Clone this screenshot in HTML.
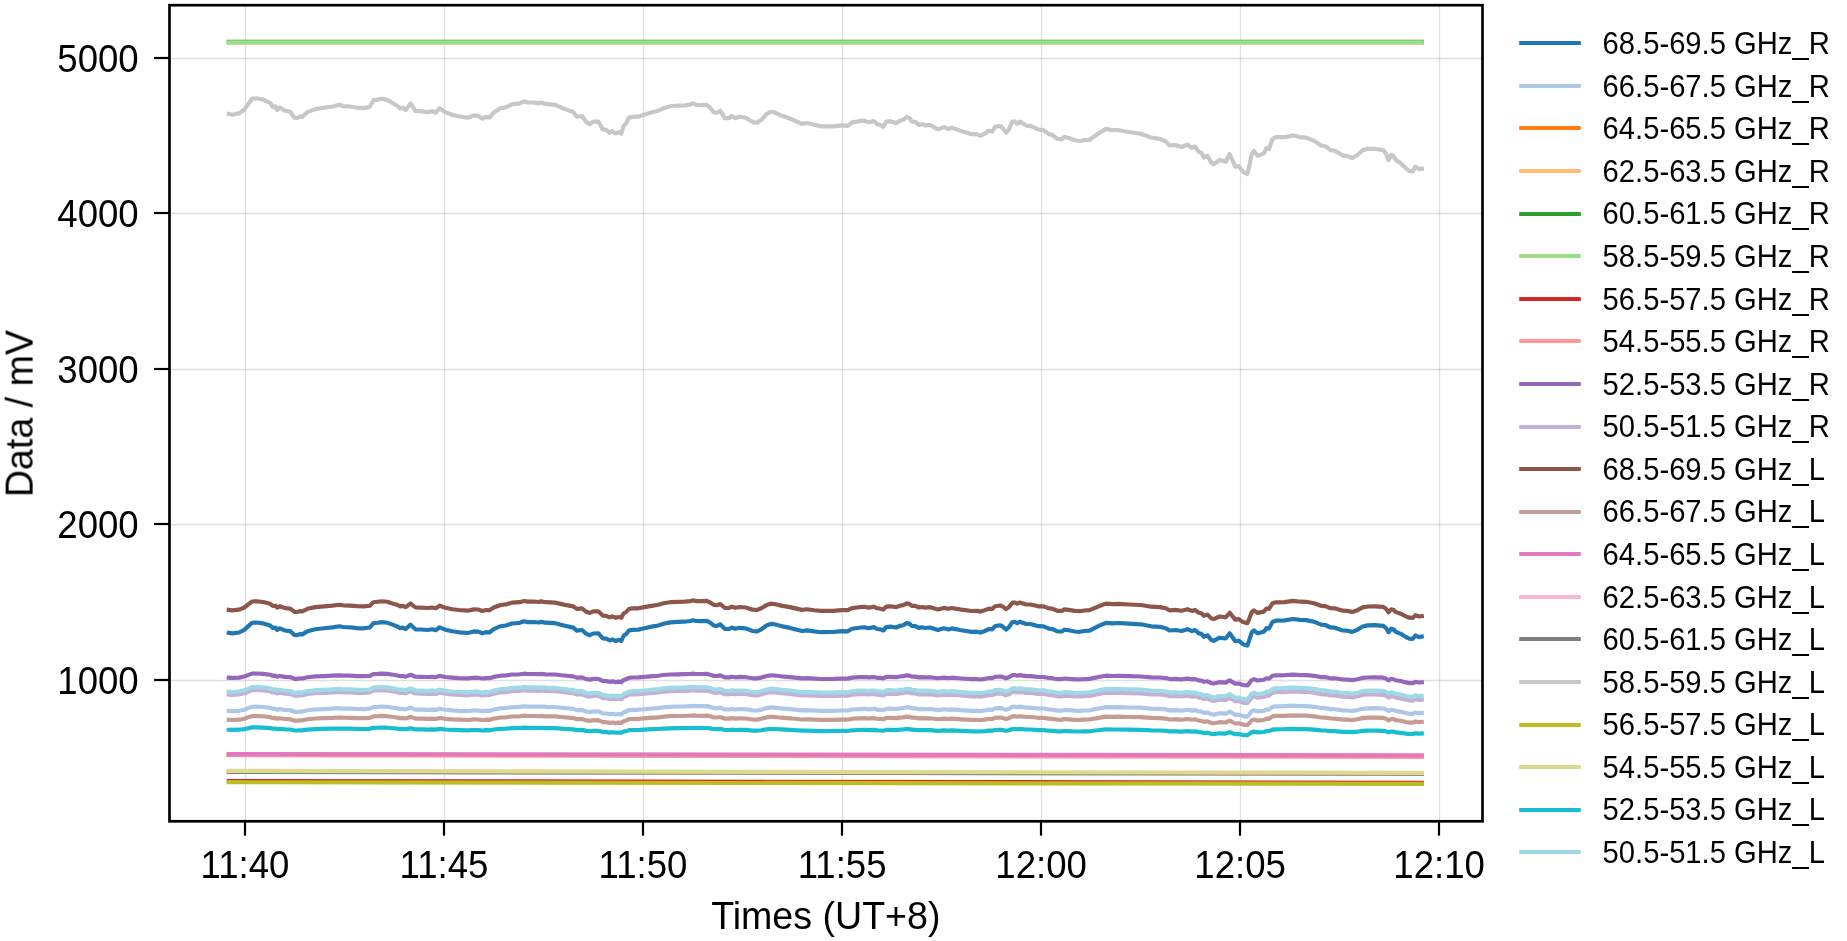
<!DOCTYPE html>
<html><head><meta charset="utf-8"><title>chart</title>
<style>
html,body{margin:0;padding:0;background:#fff;}
body{width:1847px;height:941px;overflow:hidden;}
svg{display:block;}
text{font-family:"Liberation Sans",sans-serif;fill:#000;}
.tk{font-size:36.6px;}
.al{font-size:37.6px;}
.lg{font-size:29.2px;}
</style></head><body>
<svg width="1847" height="941" viewBox="0 0 1847 941">
<rect x="0" y="0" width="1847" height="941" fill="#ffffff"/>
<g stroke="#b0b0b0" stroke-opacity="0.40" stroke-width="1.3" fill="none">
<line x1="245.5" y1="5.2" x2="245.5" y2="821.3"/>
<line x1="444.5" y1="5.2" x2="444.5" y2="821.3"/>
<line x1="643.5" y1="5.2" x2="643.5" y2="821.3"/>
<line x1="842.5" y1="5.2" x2="842.5" y2="821.3"/>
<line x1="1041.5" y1="5.2" x2="1041.5" y2="821.3"/>
<line x1="1240.5" y1="5.2" x2="1240.5" y2="821.3"/>
<line x1="1439.5" y1="5.2" x2="1439.5" y2="821.3"/>
<line x1="169.5" y1="58.5" x2="1482.5" y2="58.5"/>
<line x1="169.5" y1="213.5" x2="1482.5" y2="213.5"/>
<line x1="169.5" y1="369.5" x2="1482.5" y2="369.5"/>
<line x1="169.5" y1="524.5" x2="1482.5" y2="524.5"/>
<line x1="169.5" y1="680.5" x2="1482.5" y2="680.5"/>
</g>
<g fill="none" stroke-width="4.17" stroke-linejoin="round" stroke-linecap="square">
<path d="M228.8,632.8 L232.1,633.4 L239.1,632.5 L244.3,629.9 L248.6,625.9 L252.1,622.8 L256.4,622.5 L263.3,623.4 L270.2,625.5 L272.8,628.0 L275.4,627.6 L277.2,630.0 L279.8,628.3 L285.0,630.5 L290.2,631.1 L294.5,635.0 L297.1,635.2 L299.7,634.1 L302.3,634.4 L307.5,631.2 L315.3,629.2 L324.0,628.3 L332.6,627.4 L339.5,626.3 L343.0,627.0 L349.9,627.3 L356.9,628.1 L363.8,628.3 L369.9,627.5 L373.3,623.2 L377.7,622.7 L382.0,622.1 L387.2,622.8 L393.2,624.9 L397.6,626.6 L400.2,628.2 L402.8,627.6 L405.7,629.0 L410.6,624.6 L415.4,629.4 L421.0,629.5 L427.9,630.0 L432.2,629.3 L435.7,630.2 L439.7,627.3 L445.2,629.7 L452.2,631.3 L459.1,632.3 L467.7,633.0 L473.8,631.4 L478.1,631.6 L482.5,633.3 L485.9,632.1 L489.4,632.5 L493.7,629.2 L500.7,626.2 L505.9,625.5 L511.9,623.5 L519.7,622.8 L524.0,621.3 L527.5,622.1 L533.6,622.0 L538.7,622.5 L541.3,621.9 L545.6,622.7 L555.1,623.2 L563.8,625.5 L573.3,627.6 L576.8,630.6 L582.0,630.0 L586.3,633.9 L589.8,635.2 L593.2,633.5 L598.4,633.4 L602.8,638.4 L606.2,638.7 L609.7,640.5 L612.3,639.4 L615.8,641.0 L618.7,639.9 L621.3,641.0 L623.6,635.8 L626.2,634.1 L628.8,630.5 L632.2,629.9 L638.3,629.6 L644.3,628.3 L653.0,626.4 L658.2,625.5 L663.4,623.8 L670.3,622.4 L677.3,621.9 L684.2,621.7 L690.3,621.0 L692.9,620.2 L696.3,621.0 L701.5,621.1 L706.7,620.8 L710.2,622.6 L714.0,625.6 L717.1,625.8 L720.2,624.3 L724.9,629.0 L729.2,628.9 L731.8,627.5 L735.3,628.8 L739.6,627.8 L745.7,628.4 L752.6,631.0 L757.0,631.4 L761.3,629.3 L766.5,625.5 L770.8,623.9 L774.3,624.2 L781.2,626.1 L789.9,627.9 L802.0,631.0 L807.2,630.4 L814.1,631.4 L821.1,632.2 L833.2,632.0 L841.8,631.2 L847.8,631.3 L852.1,628.8 L859.1,627.8 L864.3,627.2 L868.6,628.2 L873.8,627.1 L877.2,629.0 L880.7,629.4 L883.3,630.5 L886.4,627.0 L890.2,626.6 L896.3,627.5 L899.8,625.9 L903.2,625.2 L906.7,623.1 L909.3,623.6 L911.9,626.0 L915.4,626.1 L918.8,627.9 L922.3,627.3 L924.9,628.0 L930.1,627.5 L937.9,630.1 L943.9,628.3 L948.3,629.4 L951.7,628.4 L961.3,630.3 L971.7,631.9 L976.9,631.7 L980.3,632.6 L984.7,631.0 L989.0,629.0 L992.1,629.4 L995.1,626.1 L1000.3,625.3 L1002.9,626.7 L1006.0,629.6 L1008.9,627.2 L1012.4,622.0 L1015.0,621.9 L1017.1,623.2 L1019.8,621.7 L1026.2,624.0 L1030.6,624.0 L1038.4,626.2 L1043.6,626.3 L1048.8,628.6 L1052.2,629.0 L1057.4,631.3 L1061.8,631.5 L1064.4,629.7 L1068.7,630.3 L1074.8,631.5 L1080.0,631.8 L1084.3,631.0 L1089.5,630.6 L1099.9,625.4 L1105.9,622.8 L1112.9,623.3 L1118.9,623.0 L1128.7,623.7 L1140.8,624.3 L1151.2,626.3 L1159.8,626.8 L1165.9,628.2 L1169.4,630.5 L1175.4,630.0 L1181.5,631.0 L1187.6,629.2 L1191.9,631.1 L1195.0,630.0 L1198.8,633.4 L1201.4,633.8 L1204.0,636.8 L1207.5,635.4 L1211.0,639.6 L1213.6,640.8 L1219.6,637.7 L1225.7,638.5 L1229.7,633.3 L1235.2,641.2 L1238.7,640.7 L1243.0,644.2 L1247.3,645.5 L1249.1,640.6 L1251.7,632.5 L1253.9,630.3 L1257.7,633.3 L1263.8,631.7 L1266.4,628.1 L1269.0,628.6 L1272.5,621.9 L1275.9,620.7 L1284.6,620.4 L1293.2,619.0 L1300.2,619.9 L1306.2,620.1 L1314.0,621.7 L1321.0,624.7 L1325.3,625.0 L1330.5,627.5 L1334.8,627.7 L1342.6,630.5 L1347.0,630.7 L1352.2,631.9 L1357.4,629.8 L1362.6,626.5 L1367.7,625.4 L1374.7,625.2 L1383.3,625.8 L1385.9,628.0 L1388.5,632.2 L1391.1,628.7 L1393.7,629.4 L1395.5,631.6 L1400.7,633.8 L1405.9,637.0 L1409.3,638.6 L1412.8,638.8 L1415.4,635.5 L1418.9,637.1 L1421.8,636.6" stroke="#1f77b4"/>
<path d="M228.8,710.9 L232.1,711.1 L239.1,710.8 L244.3,709.7 L248.6,708.0 L252.1,706.8 L256.4,706.6 L263.3,707.0 L270.2,707.9 L272.8,708.9 L275.4,708.8 L277.2,709.8 L279.8,709.1 L285.0,710.0 L290.2,710.2 L294.5,711.8 L297.1,711.9 L299.7,711.5 L302.3,711.6 L307.5,710.3 L315.3,709.5 L324.0,709.1 L332.6,708.7 L339.5,708.2 L343.0,708.6 L349.9,708.7 L356.9,709.0 L363.8,709.1 L369.9,708.7 L373.3,707.0 L377.7,706.8 L382.0,706.5 L387.2,706.8 L393.2,707.7 L397.6,708.4 L400.2,709.1 L402.8,708.8 L405.7,709.4 L410.6,707.6 L415.4,709.6 L421.0,709.6 L427.9,709.8 L432.2,709.6 L435.7,709.9 L439.7,708.7 L445.2,709.7 L452.2,710.4 L459.1,710.8 L467.7,711.1 L473.8,710.4 L478.1,710.5 L482.5,711.2 L485.9,710.7 L489.4,710.9 L493.7,709.5 L500.7,708.3 L505.9,708.0 L511.9,707.2 L519.7,706.9 L524.0,706.3 L527.5,706.6 L533.6,706.5 L538.7,706.7 L541.3,706.5 L545.6,706.8 L555.1,707.0 L563.8,708.0 L573.3,708.9 L576.8,710.1 L582.0,709.9 L586.3,711.5 L589.8,712.1 L593.2,711.3 L598.4,711.3 L602.8,713.4 L606.2,713.5 L609.7,714.3 L612.3,713.8 L615.8,714.5 L618.7,714.0 L621.3,714.5 L623.6,712.3 L626.2,711.6 L628.8,710.1 L632.2,709.9 L638.3,709.8 L644.3,709.2 L653.0,708.4 L658.2,708.1 L663.4,707.3 L670.3,706.8 L677.3,706.5 L684.2,706.5 L690.3,706.2 L692.9,705.9 L696.3,706.2 L701.5,706.2 L706.7,706.1 L710.2,706.9 L714.0,708.1 L717.1,708.2 L720.2,707.6 L724.9,709.5 L729.2,709.5 L731.8,708.9 L735.3,709.5 L739.6,709.0 L745.7,709.3 L752.6,710.4 L757.0,710.5 L761.3,709.7 L766.5,708.1 L770.8,707.4 L774.3,707.6 L781.2,708.4 L789.9,709.1 L802.0,710.4 L807.2,710.1 L814.1,710.5 L821.1,710.9 L833.2,710.8 L841.8,710.5 L847.8,710.5 L852.1,709.5 L859.1,709.1 L864.3,708.9 L868.6,709.3 L873.8,708.8 L877.2,709.6 L880.7,709.8 L883.3,710.2 L886.4,708.8 L890.2,708.6 L896.3,709.0 L899.8,708.3 L903.2,708.0 L906.7,707.2 L909.3,707.4 L911.9,708.4 L915.4,708.4 L918.8,709.2 L922.3,708.9 L924.9,709.2 L930.1,709.0 L937.9,710.1 L943.9,709.3 L948.3,709.8 L951.7,709.4 L961.3,710.2 L971.7,710.8 L976.9,710.8 L980.3,711.1 L984.7,710.5 L989.0,709.6 L992.1,709.8 L995.1,708.4 L1000.3,708.1 L1002.9,708.7 L1006.0,709.9 L1008.9,708.9 L1012.4,706.7 L1015.0,706.7 L1017.1,707.2 L1019.8,706.6 L1026.2,707.6 L1030.6,707.6 L1038.4,708.5 L1043.6,708.5 L1048.8,709.5 L1052.2,709.7 L1057.4,710.6 L1061.8,710.7 L1064.4,710.0 L1068.7,710.2 L1074.8,710.7 L1080.0,710.8 L1084.3,710.5 L1089.5,710.3 L1099.9,708.2 L1105.9,707.1 L1112.9,707.3 L1118.9,707.2 L1128.7,707.5 L1140.8,707.7 L1151.2,708.6 L1159.8,708.8 L1165.9,709.4 L1169.4,710.3 L1175.4,710.1 L1181.5,710.6 L1187.6,709.8 L1191.9,710.6 L1195.0,710.1 L1198.8,711.5 L1201.4,711.7 L1204.0,713.0 L1207.5,712.4 L1211.0,714.1 L1213.6,714.6 L1219.6,713.3 L1225.7,713.7 L1229.7,711.5 L1235.2,714.8 L1238.7,714.6 L1243.0,716.1 L1247.3,716.6 L1249.1,714.6 L1251.7,711.2 L1253.9,710.3 L1257.7,711.5 L1263.8,710.9 L1266.4,709.4 L1269.0,709.6 L1272.5,706.8 L1275.9,706.3 L1284.6,706.2 L1293.2,705.6 L1300.2,706.0 L1306.2,706.1 L1314.0,706.8 L1321.0,708.0 L1325.3,708.1 L1330.5,709.1 L1334.8,709.2 L1342.6,710.4 L1347.0,710.5 L1352.2,711.0 L1357.4,710.1 L1362.6,708.8 L1367.7,708.3 L1374.7,708.2 L1383.3,708.5 L1385.9,709.4 L1388.5,711.1 L1391.1,709.7 L1393.7,710.0 L1395.5,710.9 L1400.7,711.8 L1405.9,713.1 L1409.3,713.8 L1412.8,713.9 L1415.4,712.5 L1418.9,713.2 L1421.8,713.0" stroke="#aec7e8"/>
<path d="M228.8,754.8 L1421.8,756.2" stroke="#ff7f0e"/>
<path d="M228.8,42.55 L1421.8,42.55" stroke="#ffbb78"/>
<path d="M228.8,41.85 L1421.8,41.85" stroke="#2ca02c"/>
<path d="M228.8,42.3 L1421.8,42.3" stroke="#98df8a"/>
<path d="M228.8,781.0 L1421.8,782.8" stroke="#d62728"/>
<path d="M228.8,755.0 L1421.8,757.0" stroke="#ff9896"/>
<path d="M228.8,677.7 L232.1,677.9 L239.1,677.6 L244.3,676.5 L248.6,674.9 L252.1,673.6 L256.4,673.5 L263.3,673.9 L270.2,674.8 L272.8,675.8 L275.4,675.7 L277.2,676.7 L279.8,676.0 L285.0,676.9 L290.2,677.1 L294.5,678.8 L297.1,678.9 L299.7,678.4 L302.3,678.5 L307.5,677.2 L315.3,676.4 L324.0,676.1 L332.6,675.7 L339.5,675.3 L343.0,675.6 L349.9,675.7 L356.9,676.1 L363.8,676.2 L369.9,675.8 L373.3,674.1 L377.7,673.9 L382.0,673.6 L387.2,673.9 L393.2,674.8 L397.6,675.5 L400.2,676.2 L402.8,676.0 L405.7,676.6 L410.6,674.8 L415.4,676.7 L421.0,676.8 L427.9,677.0 L432.2,676.8 L435.7,677.1 L439.7,675.9 L445.2,677.0 L452.2,677.6 L459.1,678.1 L467.7,678.4 L473.8,677.7 L478.1,677.8 L482.5,678.5 L485.9,678.1 L489.4,678.2 L493.7,676.9 L500.7,675.7 L505.9,675.4 L511.9,674.5 L519.7,674.3 L524.0,673.7 L527.5,674.0 L533.6,674.0 L538.7,674.2 L541.3,673.9 L545.6,674.3 L555.1,674.5 L563.8,675.5 L573.3,676.4 L576.8,677.6 L582.0,677.4 L586.3,679.1 L589.8,679.6 L593.2,678.9 L598.4,678.9 L602.8,681.0 L606.2,681.1 L609.7,681.9 L612.3,681.4 L615.8,682.1 L618.7,681.6 L621.3,682.1 L623.6,680.0 L626.2,679.2 L628.8,677.8 L632.2,677.5 L638.3,677.4 L644.3,676.9 L653.0,676.1 L658.2,675.8 L663.4,675.0 L670.3,674.5 L677.3,674.3 L684.2,674.2 L690.3,674.0 L692.9,673.6 L696.3,674.0 L701.5,674.0 L706.7,673.9 L710.2,674.7 L714.0,675.9 L717.1,676.0 L720.2,675.4 L724.9,677.4 L729.2,677.4 L731.8,676.7 L735.3,677.3 L739.6,676.9 L745.7,677.2 L752.6,678.3 L757.0,678.4 L761.3,677.6 L766.5,676.0 L770.8,675.4 L774.3,675.5 L781.2,676.3 L789.9,677.1 L802.0,678.4 L807.2,678.2 L814.1,678.6 L821.1,679.0 L833.2,678.9 L841.8,678.6 L847.8,678.6 L852.1,677.6 L859.1,677.2 L864.3,677.0 L868.6,677.4 L873.8,677.0 L877.2,677.8 L880.7,677.9 L883.3,678.4 L886.4,676.9 L890.2,676.8 L896.3,677.2 L899.8,676.5 L903.2,676.2 L906.7,675.4 L909.3,675.6 L911.9,676.6 L915.4,676.6 L918.8,677.4 L922.3,677.2 L924.9,677.4 L930.1,677.3 L937.9,678.3 L943.9,677.6 L948.3,678.1 L951.7,677.7 L961.3,678.5 L971.7,679.2 L976.9,679.1 L980.3,679.5 L984.7,678.9 L989.0,678.0 L992.1,678.2 L995.1,676.9 L1000.3,676.5 L1002.9,677.1 L1006.0,678.3 L1008.9,677.3 L1012.4,675.2 L1015.0,675.1 L1017.1,675.7 L1019.8,675.1 L1026.2,676.1 L1030.6,676.1 L1038.4,677.0 L1043.6,677.0 L1048.8,678.0 L1052.2,678.2 L1057.4,679.2 L1061.8,679.2 L1064.4,678.5 L1068.7,678.8 L1074.8,679.3 L1080.0,679.4 L1084.3,679.1 L1089.5,678.9 L1099.9,676.8 L1105.9,675.7 L1112.9,676.0 L1118.9,675.9 L1128.7,676.2 L1140.8,676.5 L1151.2,677.3 L1159.8,677.5 L1165.9,678.1 L1169.4,679.1 L1175.4,678.9 L1181.5,679.4 L1187.6,678.6 L1191.9,679.4 L1195.0,679.0 L1198.8,680.4 L1201.4,680.6 L1204.0,681.8 L1207.5,681.3 L1211.0,683.0 L1213.6,683.5 L1219.6,682.2 L1225.7,682.6 L1229.7,680.4 L1235.2,683.7 L1238.7,683.5 L1243.0,685.0 L1247.3,685.5 L1249.1,683.5 L1251.7,680.1 L1253.9,679.2 L1257.7,680.5 L1263.8,679.8 L1266.4,678.3 L1269.0,678.6 L1272.5,675.8 L1275.9,675.3 L1284.6,675.2 L1293.2,674.6 L1300.2,675.1 L1306.2,675.1 L1314.0,675.8 L1321.0,677.1 L1325.3,677.2 L1330.5,678.3 L1334.8,678.3 L1342.6,679.5 L1347.0,679.6 L1352.2,680.1 L1357.4,679.3 L1362.6,677.9 L1367.7,677.5 L1374.7,677.4 L1383.3,677.7 L1385.9,678.6 L1388.5,680.4 L1391.1,678.9 L1393.7,679.2 L1395.5,680.2 L1400.7,681.0 L1405.9,682.4 L1409.3,683.1 L1412.8,683.2 L1415.4,681.8 L1418.9,682.5 L1421.8,682.3" stroke="#9467bd"/>
<path d="M228.8,694.5 L232.1,694.8 L239.1,694.4 L244.3,693.3 L248.6,691.5 L252.1,690.1 L256.4,690.0 L263.3,690.4 L270.2,691.4 L272.8,692.5 L275.4,692.3 L277.2,693.4 L279.8,692.7 L285.0,693.6 L290.2,693.9 L294.5,695.7 L297.1,695.8 L299.7,695.3 L302.3,695.4 L307.5,694.0 L315.3,693.2 L324.0,692.8 L332.6,692.4 L339.5,691.9 L343.0,692.3 L349.9,692.4 L356.9,692.8 L363.8,692.9 L369.9,692.5 L373.3,690.7 L377.7,690.4 L382.0,690.2 L387.2,690.5 L393.2,691.5 L397.6,692.2 L400.2,693.0 L402.8,692.7 L405.7,693.3 L410.6,691.4 L415.4,693.5 L421.0,693.6 L427.9,693.8 L432.2,693.6 L435.7,693.9 L439.7,692.7 L445.2,693.8 L452.2,694.5 L459.1,694.9 L467.7,695.3 L473.8,694.6 L478.1,694.7 L482.5,695.5 L485.9,695.0 L489.4,695.1 L493.7,693.7 L500.7,692.4 L505.9,692.1 L511.9,691.2 L519.7,690.9 L524.0,690.3 L527.5,690.6 L533.6,690.6 L538.7,690.8 L541.3,690.5 L545.6,690.9 L555.1,691.2 L563.8,692.2 L573.3,693.2 L576.8,694.5 L582.0,694.3 L586.3,696.1 L589.8,696.7 L593.2,695.9 L598.4,695.9 L602.8,698.1 L606.2,698.2 L609.7,699.1 L612.3,698.6 L615.8,699.3 L618.7,698.8 L621.3,699.3 L623.6,697.0 L626.2,696.3 L628.8,694.6 L632.2,694.4 L638.3,694.3 L644.3,693.7 L653.0,692.9 L658.2,692.5 L663.4,691.7 L670.3,691.2 L677.3,690.9 L684.2,690.9 L690.3,690.6 L692.9,690.2 L696.3,690.6 L701.5,690.7 L706.7,690.5 L710.2,691.4 L714.0,692.7 L717.1,692.8 L720.2,692.2 L724.9,694.3 L729.2,694.2 L731.8,693.6 L735.3,694.2 L739.6,693.8 L745.7,694.0 L752.6,695.2 L757.0,695.4 L761.3,694.5 L766.5,692.8 L770.8,692.1 L774.3,692.3 L781.2,693.1 L789.9,693.9 L802.0,695.4 L807.2,695.1 L814.1,695.6 L821.1,696.0 L833.2,695.9 L841.8,695.6 L847.8,695.6 L852.1,694.6 L859.1,694.1 L864.3,693.9 L868.6,694.3 L873.8,693.9 L877.2,694.7 L880.7,694.9 L883.3,695.4 L886.4,693.8 L890.2,693.7 L896.3,694.1 L899.8,693.4 L903.2,693.1 L906.7,692.2 L909.3,692.4 L911.9,693.5 L915.4,693.5 L918.8,694.4 L922.3,694.1 L924.9,694.4 L930.1,694.2 L937.9,695.4 L943.9,694.6 L948.3,695.1 L951.7,694.6 L961.3,695.5 L971.7,696.3 L976.9,696.2 L980.3,696.6 L984.7,695.9 L989.0,695.0 L992.1,695.2 L995.1,693.8 L1000.3,693.4 L1002.9,694.0 L1006.0,695.3 L1008.9,694.3 L1012.4,692.0 L1015.0,691.9 L1017.1,692.5 L1019.8,691.9 L1026.2,692.9 L1030.6,692.9 L1038.4,693.9 L1043.6,694.0 L1048.8,695.0 L1052.2,695.2 L1057.4,696.3 L1061.8,696.4 L1064.4,695.6 L1068.7,695.8 L1074.8,696.4 L1080.0,696.5 L1084.3,696.2 L1089.5,696.0 L1099.9,693.7 L1105.9,692.6 L1112.9,692.9 L1118.9,692.8 L1128.7,693.1 L1140.8,693.4 L1151.2,694.3 L1159.8,694.5 L1165.9,695.2 L1169.4,696.2 L1175.4,696.0 L1181.5,696.5 L1187.6,695.7 L1191.9,696.6 L1195.0,696.1 L1198.8,697.6 L1201.4,697.8 L1204.0,699.2 L1207.5,698.5 L1211.0,700.4 L1213.6,701.0 L1219.6,699.6 L1225.7,700.0 L1229.7,697.7 L1235.2,701.2 L1238.7,701.0 L1243.0,702.6 L1247.3,703.2 L1249.1,701.0 L1251.7,697.4 L1253.9,696.4 L1257.7,697.7 L1263.8,697.0 L1266.4,695.4 L1269.0,695.7 L1272.5,692.7 L1275.9,692.2 L1284.6,692.1 L1293.2,691.5 L1300.2,691.9 L1306.2,692.0 L1314.0,692.7 L1321.0,694.1 L1325.3,694.3 L1330.5,695.4 L1334.8,695.5 L1342.6,696.7 L1347.0,696.8 L1352.2,697.4 L1357.4,696.5 L1362.6,695.0 L1367.7,694.5 L1374.7,694.5 L1383.3,694.8 L1385.9,695.7 L1388.5,697.6 L1391.1,696.1 L1393.7,696.4 L1395.5,697.4 L1400.7,698.4 L1405.9,699.8 L1409.3,700.5 L1412.8,700.6 L1415.4,699.2 L1418.9,699.9 L1421.8,699.7" stroke="#c5b0d5"/>
<path d="M228.8,609.9 L232.1,610.4 L239.1,609.6 L244.3,607.5 L248.6,604.1 L252.1,601.5 L256.4,601.2 L263.3,602.0 L270.2,603.8 L272.8,606.0 L275.4,605.7 L277.2,607.7 L279.8,606.2 L285.0,608.1 L290.2,608.6 L294.5,611.9 L297.1,612.1 L299.7,611.1 L302.3,611.4 L307.5,608.8 L315.3,607.1 L324.0,606.3 L332.6,605.6 L339.5,604.7 L343.0,605.3 L349.9,605.6 L356.9,606.2 L363.8,606.4 L369.9,605.7 L373.3,602.2 L377.7,601.7 L382.0,601.2 L387.2,601.8 L393.2,603.7 L397.6,605.0 L400.2,606.4 L402.8,605.9 L405.7,607.1 L410.6,603.5 L415.4,607.5 L421.0,607.6 L427.9,608.0 L432.2,607.5 L435.7,608.2 L439.7,605.7 L445.2,607.8 L452.2,609.2 L459.1,610.0 L467.7,610.7 L473.8,609.4 L478.1,609.5 L482.5,611.0 L485.9,610.0 L489.4,610.3 L493.7,607.5 L500.7,605.0 L505.9,604.4 L511.9,602.7 L519.7,602.2 L524.0,601.0 L527.5,601.6 L533.6,601.5 L538.7,602.0 L541.3,601.4 L545.6,602.2 L555.1,602.6 L563.8,604.6 L573.3,606.4 L576.8,608.9 L582.0,608.4 L586.3,611.8 L589.8,612.9 L593.2,611.4 L598.4,611.4 L602.8,615.6 L606.2,615.8 L609.7,617.4 L612.3,616.4 L615.8,617.8 L618.7,616.9 L621.3,617.8 L623.6,613.5 L626.2,612.0 L628.8,609.0 L632.2,608.4 L638.3,608.3 L644.3,607.1 L653.0,605.6 L658.2,604.8 L663.4,603.3 L670.3,602.2 L677.3,601.8 L684.2,601.6 L690.3,601.1 L692.9,600.4 L696.3,601.1 L701.5,601.2 L706.7,600.9 L710.2,602.5 L714.0,605.0 L717.1,605.2 L720.2,604.0 L724.9,608.0 L729.2,607.9 L731.8,606.6 L735.3,607.8 L739.6,607.0 L745.7,607.5 L752.6,609.7 L757.0,610.0 L761.3,608.3 L766.5,605.1 L770.8,603.7 L774.3,604.0 L781.2,605.6 L789.9,607.1 L802.0,609.9 L807.2,609.3 L814.1,610.2 L821.1,610.9 L833.2,610.8 L841.8,610.1 L847.8,610.2 L852.1,608.1 L859.1,607.2 L864.3,606.8 L868.6,607.6 L873.8,606.7 L877.2,608.3 L880.7,608.7 L883.3,609.6 L886.4,606.6 L890.2,606.3 L896.3,607.1 L899.8,605.7 L903.2,605.1 L906.7,603.4 L909.3,603.9 L911.9,605.9 L915.4,605.9 L918.8,607.5 L922.3,607.0 L924.9,607.6 L930.1,607.2 L937.9,609.4 L943.9,607.9 L948.3,608.8 L951.7,608.0 L961.3,609.6 L971.7,611.0 L976.9,610.8 L980.3,611.6 L984.7,610.3 L989.0,608.6 L992.1,608.9 L995.1,606.2 L1000.3,605.5 L1002.9,606.7 L1006.0,609.1 L1008.9,607.1 L1012.4,602.7 L1015.0,602.6 L1017.1,603.7 L1019.8,602.5 L1026.2,604.5 L1030.6,604.5 L1038.4,606.3 L1043.6,606.4 L1048.8,608.4 L1052.2,608.7 L1057.4,610.8 L1061.8,610.9 L1064.4,609.4 L1068.7,609.9 L1074.8,610.9 L1080.0,611.2 L1084.3,610.5 L1089.5,610.2 L1099.9,605.8 L1105.9,603.6 L1112.9,604.1 L1118.9,603.9 L1128.7,604.5 L1140.8,605.0 L1151.2,606.7 L1159.8,607.1 L1165.9,608.3 L1169.4,610.3 L1175.4,609.9 L1181.5,610.8 L1187.6,609.2 L1191.9,610.9 L1195.0,609.9 L1198.8,612.8 L1201.4,613.2 L1204.0,615.8 L1207.5,614.6 L1211.0,618.1 L1213.6,619.2 L1219.6,616.5 L1225.7,617.3 L1229.7,612.8 L1235.2,619.6 L1238.7,619.1 L1243.0,622.1 L1247.3,623.2 L1249.1,619.1 L1251.7,612.2 L1253.9,610.4 L1257.7,612.9 L1263.8,611.6 L1266.4,608.5 L1269.0,608.9 L1272.5,603.3 L1275.9,602.3 L1284.6,602.1 L1293.2,600.9 L1300.2,601.7 L1306.2,601.8 L1314.0,603.3 L1321.0,605.8 L1325.3,606.1 L1330.5,608.2 L1334.8,608.3 L1342.6,610.7 L1347.0,610.9 L1352.2,611.9 L1357.4,610.2 L1362.6,607.4 L1367.7,606.5 L1374.7,606.4 L1383.3,606.9 L1385.9,608.7 L1388.5,612.3 L1391.1,609.4 L1393.7,610.0 L1395.5,611.9 L1400.7,613.7 L1405.9,616.4 L1409.3,617.7 L1412.8,617.9 L1415.4,615.2 L1418.9,616.5 L1421.8,616.1" stroke="#8c564b"/>
<path d="M228.8,719.8 L232.1,720.0 L239.1,719.7 L244.3,718.7 L248.6,717.3 L252.1,716.1 L256.4,716.0 L263.3,716.3 L270.2,717.1 L272.8,718.1 L275.4,717.9 L277.2,718.8 L279.8,718.2 L285.0,719.0 L290.2,719.2 L294.5,720.7 L297.1,720.7 L299.7,720.3 L302.3,720.4 L307.5,719.3 L315.3,718.5 L324.0,718.2 L332.6,717.9 L339.5,717.5 L343.0,717.7 L349.9,717.9 L356.9,718.1 L363.8,718.2 L369.9,717.9 L373.3,716.4 L377.7,716.2 L382.0,715.9 L387.2,716.2 L393.2,717.0 L397.6,717.6 L400.2,718.2 L402.8,718.0 L405.7,718.5 L410.6,716.9 L415.4,718.6 L421.0,718.7 L427.9,718.9 L432.2,718.6 L435.7,719.0 L439.7,717.9 L445.2,718.8 L452.2,719.4 L459.1,719.7 L467.7,720.0 L473.8,719.4 L478.1,719.5 L482.5,720.1 L485.9,719.7 L489.4,719.9 L493.7,718.6 L500.7,717.5 L505.9,717.3 L511.9,716.5 L519.7,716.3 L524.0,715.7 L527.5,716.0 L533.6,716.0 L538.7,716.2 L541.3,715.9 L545.6,716.3 L555.1,716.4 L563.8,717.3 L573.3,718.1 L576.8,719.2 L582.0,719.0 L586.3,720.4 L589.8,720.9 L593.2,720.3 L598.4,720.2 L602.8,722.1 L606.2,722.2 L609.7,722.9 L612.3,722.5 L615.8,723.1 L618.7,722.6 L621.3,723.0 L623.6,721.2 L626.2,720.5 L628.8,719.2 L632.2,719.0 L638.3,718.9 L644.3,718.4 L653.0,717.7 L658.2,717.4 L663.4,716.7 L670.3,716.2 L677.3,716.0 L684.2,716.0 L690.3,715.7 L692.9,715.4 L696.3,715.7 L701.5,715.8 L706.7,715.6 L710.2,716.3 L714.0,717.4 L717.1,717.5 L720.2,717.0 L724.9,718.7 L729.2,718.7 L731.8,718.1 L735.3,718.6 L739.6,718.3 L745.7,718.5 L752.6,719.5 L757.0,719.6 L761.3,718.8 L766.5,717.4 L770.8,716.8 L774.3,717.0 L781.2,717.7 L789.9,718.3 L802.0,719.5 L807.2,719.3 L814.1,719.6 L821.1,719.9 L833.2,719.9 L841.8,719.6 L847.8,719.6 L852.1,718.7 L859.1,718.3 L864.3,718.1 L868.6,718.5 L873.8,718.1 L877.2,718.8 L880.7,718.9 L883.3,719.3 L886.4,718.0 L890.2,717.9 L896.3,718.2 L899.8,717.6 L903.2,717.4 L906.7,716.6 L909.3,716.8 L911.9,717.7 L915.4,717.7 L918.8,718.4 L922.3,718.2 L924.9,718.4 L930.1,718.3 L937.9,719.2 L943.9,718.6 L948.3,719.0 L951.7,718.6 L961.3,719.3 L971.7,719.9 L976.9,719.8 L980.3,720.2 L984.7,719.6 L989.0,718.8 L992.1,719.0 L995.1,717.8 L1000.3,717.5 L1002.9,718.0 L1006.0,719.1 L1008.9,718.2 L1012.4,716.3 L1015.0,716.2 L1017.1,716.7 L1019.8,716.2 L1026.2,717.0 L1030.6,717.0 L1038.4,717.8 L1043.6,717.9 L1048.8,718.7 L1052.2,718.9 L1057.4,719.7 L1061.8,719.8 L1064.4,719.1 L1068.7,719.4 L1074.8,719.8 L1080.0,719.9 L1084.3,719.6 L1089.5,719.5 L1099.9,717.6 L1105.9,716.6 L1112.9,716.8 L1118.9,716.7 L1128.7,717.0 L1140.8,717.2 L1151.2,717.9 L1159.8,718.1 L1165.9,718.6 L1169.4,719.5 L1175.4,719.3 L1181.5,719.7 L1187.6,719.0 L1191.9,719.7 L1195.0,719.3 L1198.8,720.6 L1201.4,720.8 L1204.0,721.9 L1207.5,721.3 L1211.0,722.9 L1213.6,723.3 L1219.6,722.2 L1225.7,722.5 L1229.7,720.6 L1235.2,723.5 L1238.7,723.3 L1243.0,724.6 L1247.3,725.1 L1249.1,723.3 L1251.7,720.3 L1253.9,719.5 L1257.7,720.6 L1263.8,720.0 L1266.4,718.7 L1269.0,718.8 L1272.5,716.4 L1275.9,715.9 L1284.6,715.8 L1293.2,715.3 L1300.2,715.7 L1306.2,715.7 L1314.0,716.4 L1321.0,717.5 L1325.3,717.6 L1330.5,718.5 L1334.8,718.6 L1342.6,719.6 L1347.0,719.7 L1352.2,720.1 L1357.4,719.3 L1362.6,718.1 L1367.7,717.7 L1374.7,717.7 L1383.3,717.9 L1385.9,718.7 L1388.5,720.3 L1391.1,719.0 L1393.7,719.2 L1395.5,720.1 L1400.7,720.8 L1405.9,722.0 L1409.3,722.6 L1412.8,722.7 L1415.4,721.5 L1418.9,722.1 L1421.8,721.9" stroke="#c49c94"/>
<path d="M228.8,754.1 L1421.8,755.3" stroke="#e377c2"/>
<path d="M228.8,771.6 L1421.8,773.9" stroke="#f7b6d2"/>
<path d="M228.8,771.9 L1421.8,773.7" stroke="#7f7f7f"/>
<path d="M228.8,113.8 L232.1,114.7 L239.1,113.4 L244.3,109.5 L248.6,103.4 L252.1,98.7 L256.4,98.2 L263.3,99.6 L270.2,103.0 L272.8,106.9 L275.4,106.3 L277.2,110.0 L279.8,107.4 L285.0,110.8 L290.2,111.7 L294.5,117.8 L297.1,118.1 L299.7,116.4 L302.3,116.9 L307.5,112.1 L315.3,109.1 L324.0,107.7 L332.6,106.5 L339.5,104.8 L343.0,106.0 L349.9,106.5 L356.9,107.7 L363.8,108.1 L369.9,106.9 L373.3,100.4 L377.7,99.6 L382.0,98.7 L387.2,99.9 L393.2,103.4 L397.6,106.0 L400.2,108.6 L402.8,107.7 L405.7,110.0 L410.6,103.4 L415.4,110.8 L421.0,111.2 L427.9,112.1 L432.2,111.2 L435.7,112.6 L439.7,108.2 L445.2,112.1 L452.2,114.7 L459.1,116.4 L467.7,117.8 L473.8,115.5 L478.1,115.9 L482.5,118.6 L485.9,116.9 L489.4,117.6 L493.7,112.6 L500.7,108.2 L505.9,107.2 L511.9,104.3 L519.7,103.4 L524.0,101.3 L527.5,102.5 L533.6,102.5 L538.7,103.4 L541.3,102.5 L545.6,103.9 L555.1,104.8 L563.8,108.6 L573.3,112.1 L576.8,116.7 L582.0,116.0 L586.3,122.1 L589.8,124.2 L593.2,121.6 L598.4,121.6 L602.8,129.4 L606.2,129.9 L609.7,132.8 L612.3,131.1 L615.8,133.7 L618.7,132.0 L621.3,133.7 L623.6,125.9 L626.2,123.3 L628.8,117.8 L632.2,116.9 L638.3,116.7 L644.3,114.7 L653.0,112.1 L658.2,110.8 L663.4,108.2 L670.3,106.3 L677.3,105.6 L684.2,105.5 L690.3,104.6 L692.9,103.4 L696.3,104.8 L701.5,105.1 L706.7,104.8 L710.2,107.7 L714.0,112.4 L717.1,112.9 L720.2,110.7 L724.9,118.1 L729.2,118.1 L731.8,115.9 L735.3,118.1 L739.6,116.7 L745.7,117.8 L752.6,122.1 L757.0,122.8 L761.3,119.8 L766.5,114.1 L770.8,111.7 L774.3,112.4 L781.2,115.5 L789.9,118.5 L802.0,123.8 L807.2,123.0 L814.1,124.7 L821.1,126.3 L833.2,126.4 L841.8,125.4 L847.8,125.9 L852.1,122.4 L859.1,121.2 L864.3,120.7 L868.6,122.4 L873.8,121.1 L877.2,124.2 L880.7,125.0 L883.3,126.8 L886.4,121.6 L890.2,121.2 L896.3,123.0 L899.8,120.7 L903.2,119.8 L906.7,116.9 L909.3,117.8 L911.9,121.6 L915.4,121.9 L918.8,125.0 L922.3,124.2 L924.9,125.4 L930.1,125.0 L937.9,129.4 L943.9,127.1 L948.3,129.0 L951.7,127.6 L961.3,131.1 L971.7,134.2 L976.9,134.2 L980.3,135.8 L984.7,133.7 L989.0,130.8 L992.1,131.6 L995.1,126.8 L1000.3,125.9 L1002.9,128.2 L1006.0,132.8 L1008.9,129.4 L1012.4,121.6 L1015.0,121.6 L1017.1,123.7 L1019.8,121.6 L1026.2,125.6 L1030.6,125.9 L1038.4,129.7 L1043.6,130.2 L1048.8,134.1 L1052.2,134.9 L1057.4,138.9 L1061.8,139.4 L1064.4,136.8 L1068.7,138.0 L1074.8,140.3 L1080.0,141.0 L1084.3,140.1 L1089.5,139.8 L1099.9,132.5 L1105.9,128.9 L1112.9,130.2 L1118.9,130.2 L1128.7,132.0 L1140.8,133.7 L1151.2,137.5 L1159.8,138.9 L1165.9,141.5 L1169.4,145.3 L1175.4,145.0 L1181.5,147.0 L1187.6,144.6 L1191.9,147.9 L1195.0,146.4 L1198.8,151.9 L1201.4,152.8 L1204.0,157.6 L1207.5,155.7 L1211.0,162.3 L1213.6,164.4 L1219.6,160.0 L1225.7,161.8 L1229.7,154.0 L1235.2,166.6 L1238.7,166.1 L1243.0,171.8 L1247.3,174.1 L1249.1,166.6 L1251.7,154.2 L1253.9,151.0 L1257.7,155.7 L1263.8,153.6 L1266.4,148.1 L1269.0,149.0 L1272.5,138.9 L1275.9,137.2 L1284.6,137.2 L1293.2,135.4 L1300.2,137.2 L1306.2,137.7 L1314.0,140.6 L1321.0,145.5 L1325.3,146.2 L1330.5,150.2 L1334.8,150.7 L1342.6,155.4 L1347.0,155.9 L1352.2,158.0 L1357.4,155.0 L1362.6,150.2 L1367.7,148.8 L1374.7,148.8 L1383.3,150.2 L1385.9,153.6 L1388.5,160.2 L1391.1,155.0 L1393.7,156.2 L1395.5,159.7 L1400.7,163.2 L1405.9,168.4 L1409.3,171.0 L1412.8,171.5 L1415.4,166.6 L1418.9,169.2 L1421.8,168.7" stroke="#c7c7c7"/>
<path d="M228.8,782.2 L1421.8,783.9" stroke="#bcbd22"/>
<path d="M228.8,770.9 L1421.8,772.9" stroke="#dbdb8d"/>
<path d="M228.8,729.8 L232.1,729.9 L239.1,729.7 L244.3,729.1 L248.6,728.2 L252.1,727.4 L256.4,727.3 L263.3,727.6 L270.2,728.1 L272.8,728.7 L275.4,728.6 L277.2,729.2 L279.8,728.8 L285.0,729.4 L290.2,729.5 L294.5,730.5 L297.1,730.5 L299.7,730.3 L302.3,730.4 L307.5,729.6 L315.3,729.1 L324.0,728.9 L332.6,728.7 L339.5,728.5 L343.0,728.7 L349.9,728.7 L356.9,728.9 L363.8,729.0 L369.9,728.8 L373.3,727.8 L377.7,727.7 L382.0,727.5 L387.2,727.7 L393.2,728.3 L397.6,728.7 L400.2,729.1 L402.8,728.9 L405.7,729.3 L410.6,728.2 L415.4,729.4 L421.0,729.4 L427.9,729.6 L432.2,729.4 L435.7,729.6 L439.7,728.9 L445.2,729.5 L452.2,729.9 L459.1,730.2 L467.7,730.4 L473.8,730.0 L478.1,730.1 L482.5,730.5 L485.9,730.2 L489.4,730.3 L493.7,729.5 L500.7,728.8 L505.9,728.7 L511.9,728.2 L519.7,728.0 L524.0,727.7 L527.5,727.9 L533.6,727.9 L538.7,728.0 L541.3,727.8 L545.6,728.1 L555.1,728.2 L563.8,728.8 L573.3,729.3 L576.8,730.1 L582.0,729.9 L586.3,730.9 L589.8,731.2 L593.2,730.8 L598.4,730.8 L602.8,732.1 L606.2,732.1 L609.7,732.6 L612.3,732.3 L615.8,732.7 L618.7,732.5 L621.3,732.7 L623.6,731.5 L626.2,731.1 L628.8,730.2 L632.2,730.0 L638.3,730.0 L644.3,729.7 L653.0,729.2 L658.2,729.0 L663.4,728.6 L670.3,728.3 L677.3,728.2 L684.2,728.1 L690.3,728.0 L692.9,727.8 L696.3,728.0 L701.5,728.0 L706.7,728.0 L710.2,728.4 L714.0,729.2 L717.1,729.2 L720.2,728.9 L724.9,730.0 L729.2,730.0 L731.8,729.7 L735.3,730.0 L739.6,729.8 L745.7,729.9 L752.6,730.6 L757.0,730.7 L761.3,730.2 L766.5,729.3 L770.8,728.9 L774.3,729.0 L781.2,729.4 L789.9,729.9 L802.0,730.7 L807.2,730.6 L814.1,730.8 L821.1,731.1 L833.2,731.0 L841.8,730.8 L847.8,730.9 L852.1,730.3 L859.1,730.0 L864.3,729.9 L868.6,730.2 L873.8,729.9 L877.2,730.4 L880.7,730.5 L883.3,730.8 L886.4,729.9 L890.2,729.8 L896.3,730.1 L899.8,729.7 L903.2,729.5 L906.7,729.0 L909.3,729.1 L911.9,729.7 L915.4,729.8 L918.8,730.2 L922.3,730.1 L924.9,730.2 L930.1,730.1 L937.9,730.8 L943.9,730.4 L948.3,730.7 L951.7,730.4 L961.3,730.9 L971.7,731.3 L976.9,731.3 L980.3,731.5 L984.7,731.1 L989.0,730.6 L992.1,730.7 L995.1,730.0 L1000.3,729.8 L1002.9,730.1 L1006.0,730.8 L1008.9,730.3 L1012.4,729.0 L1015.0,729.0 L1017.1,729.3 L1019.8,728.9 L1026.2,729.5 L1030.6,729.5 L1038.4,730.1 L1043.6,730.1 L1048.8,730.7 L1052.2,730.8 L1057.4,731.4 L1061.8,731.4 L1064.4,731.0 L1068.7,731.2 L1074.8,731.5 L1080.0,731.5 L1084.3,731.4 L1089.5,731.3 L1099.9,730.0 L1105.9,729.4 L1112.9,729.5 L1118.9,729.5 L1128.7,729.7 L1140.8,729.8 L1151.2,730.4 L1159.8,730.5 L1165.9,730.9 L1169.4,731.4 L1175.4,731.3 L1181.5,731.6 L1187.6,731.2 L1191.9,731.6 L1195.0,731.4 L1198.8,732.2 L1201.4,732.3 L1204.0,733.1 L1207.5,732.7 L1211.0,733.8 L1213.6,734.1 L1219.6,733.3 L1225.7,733.6 L1229.7,732.3 L1235.2,734.2 L1238.7,734.1 L1243.0,735.0 L1247.3,735.3 L1249.1,734.1 L1251.7,732.1 L1253.9,731.6 L1257.7,732.3 L1263.8,732.0 L1266.4,731.1 L1269.0,731.2 L1272.5,729.6 L1275.9,729.3 L1284.6,729.2 L1293.2,728.9 L1300.2,729.1 L1306.2,729.2 L1314.0,729.6 L1321.0,730.4 L1325.3,730.5 L1330.5,731.1 L1334.8,731.1 L1342.6,731.8 L1347.0,731.9 L1352.2,732.2 L1357.4,731.7 L1362.6,730.9 L1367.7,730.7 L1374.7,730.6 L1383.3,730.8 L1385.9,731.3 L1388.5,732.4 L1391.1,731.5 L1393.7,731.7 L1395.5,732.3 L1400.7,732.8 L1405.9,733.6 L1409.3,734.0 L1412.8,734.0 L1415.4,733.3 L1418.9,733.6 L1421.8,733.5" stroke="#17becf"/>
<path d="M228.8,691.7 L232.1,692.0 L239.1,691.6 L244.3,690.4 L248.6,688.6 L252.1,687.2 L256.4,687.0 L263.3,687.4 L270.2,688.4 L272.8,689.6 L275.4,689.4 L277.2,690.5 L279.8,689.7 L285.0,690.8 L290.2,691.0 L294.5,692.9 L297.1,692.9 L299.7,692.4 L302.3,692.6 L307.5,691.1 L315.3,690.2 L324.0,689.8 L332.6,689.4 L339.5,688.9 L343.0,689.3 L349.9,689.4 L356.9,689.8 L363.8,689.9 L369.9,689.5 L373.3,687.6 L377.7,687.3 L382.0,687.1 L387.2,687.4 L393.2,688.4 L397.6,689.2 L400.2,689.9 L402.8,689.7 L405.7,690.3 L410.6,688.3 L415.4,690.5 L421.0,690.6 L427.9,690.8 L432.2,690.5 L435.7,690.9 L439.7,689.6 L445.2,690.7 L452.2,691.5 L459.1,691.9 L467.7,692.3 L473.8,691.6 L478.1,691.7 L482.5,692.5 L485.9,691.9 L489.4,692.1 L493.7,690.6 L500.7,689.2 L505.9,688.9 L511.9,688.0 L519.7,687.7 L524.0,687.0 L527.5,687.4 L533.6,687.3 L538.7,687.6 L541.3,687.3 L545.6,687.7 L555.1,687.9 L563.8,689.0 L573.3,690.0 L576.8,691.4 L582.0,691.2 L586.3,693.0 L589.8,693.6 L593.2,692.8 L598.4,692.8 L602.8,695.1 L606.2,695.2 L609.7,696.1 L612.3,695.5 L615.8,696.3 L618.7,695.8 L621.3,696.3 L623.6,693.9 L626.2,693.1 L628.8,691.5 L632.2,691.2 L638.3,691.1 L644.3,690.5 L653.0,689.7 L658.2,689.2 L663.4,688.4 L670.3,687.8 L677.3,687.6 L684.2,687.5 L690.3,687.2 L692.9,686.9 L696.3,687.2 L701.5,687.3 L706.7,687.2 L710.2,688.0 L714.0,689.4 L717.1,689.5 L720.2,688.8 L724.9,691.0 L729.2,691.0 L731.8,690.3 L735.3,690.9 L739.6,690.5 L745.7,690.7 L752.6,692.0 L757.0,692.2 L761.3,691.2 L766.5,689.5 L770.8,688.7 L774.3,688.9 L781.2,689.8 L789.9,690.6 L802.0,692.1 L807.2,691.8 L814.1,692.3 L821.1,692.7 L833.2,692.6 L841.8,692.2 L847.8,692.3 L852.1,691.2 L859.1,690.7 L864.3,690.5 L868.6,690.9 L873.8,690.4 L877.2,691.3 L880.7,691.5 L883.3,692.0 L886.4,690.4 L890.2,690.2 L896.3,690.7 L899.8,689.9 L903.2,689.6 L906.7,688.7 L909.3,688.9 L911.9,690.0 L915.4,690.0 L918.8,690.9 L922.3,690.6 L924.9,690.9 L930.1,690.7 L937.9,691.9 L943.9,691.1 L948.3,691.6 L951.7,691.2 L961.3,692.1 L971.7,692.8 L976.9,692.8 L980.3,693.2 L984.7,692.5 L989.0,691.5 L992.1,691.7 L995.1,690.2 L1000.3,689.9 L1002.9,690.5 L1006.0,691.8 L1008.9,690.8 L1012.4,688.4 L1015.0,688.3 L1017.1,688.9 L1019.8,688.2 L1026.2,689.3 L1030.6,689.3 L1038.4,690.3 L1043.6,690.4 L1048.8,691.5 L1052.2,691.7 L1057.4,692.8 L1061.8,692.8 L1064.4,692.0 L1068.7,692.3 L1074.8,692.9 L1080.0,693.0 L1084.3,692.7 L1089.5,692.5 L1099.9,690.1 L1105.9,688.9 L1112.9,689.2 L1118.9,689.1 L1128.7,689.4 L1140.8,689.7 L1151.2,690.6 L1159.8,690.9 L1165.9,691.5 L1169.4,692.6 L1175.4,692.4 L1181.5,692.9 L1187.6,692.0 L1191.9,692.9 L1195.0,692.4 L1198.8,694.0 L1201.4,694.2 L1204.0,695.6 L1207.5,695.0 L1211.0,696.9 L1213.6,697.5 L1219.6,696.0 L1225.7,696.4 L1229.7,694.0 L1235.2,697.7 L1238.7,697.5 L1243.0,699.1 L1247.3,699.7 L1249.1,697.4 L1251.7,693.7 L1253.9,692.7 L1257.7,694.1 L1263.8,693.4 L1266.4,691.7 L1269.0,691.9 L1272.5,688.9 L1275.9,688.3 L1284.6,688.2 L1293.2,687.6 L1300.2,688.0 L1306.2,688.1 L1314.0,688.9 L1321.0,690.3 L1325.3,690.4 L1330.5,691.5 L1334.8,691.6 L1342.6,693.0 L1347.0,693.1 L1352.2,693.6 L1357.4,692.7 L1362.6,691.2 L1367.7,690.7 L1374.7,690.6 L1383.3,690.9 L1385.9,691.9 L1388.5,693.8 L1391.1,692.3 L1393.7,692.6 L1395.5,693.6 L1400.7,694.6 L1405.9,696.1 L1409.3,696.8 L1412.8,696.9 L1415.4,695.4 L1418.9,696.2 L1421.8,696.0" stroke="#9edae5"/>
</g>
<g stroke="#000" stroke-width="2.2" fill="none">
<line x1="245" y1="821.3" x2="245" y2="835.7"/>
<line x1="444" y1="821.3" x2="444" y2="835.7"/>
<line x1="643" y1="821.3" x2="643" y2="835.7"/>
<line x1="842" y1="821.3" x2="842" y2="835.7"/>
<line x1="1041" y1="821.3" x2="1041" y2="835.7"/>
<line x1="1240" y1="821.3" x2="1240" y2="835.7"/>
<line x1="1439" y1="821.3" x2="1439" y2="835.7"/>
<line x1="154.1" y1="58" x2="169.5" y2="58"/>
<line x1="154.1" y1="213" x2="169.5" y2="213"/>
<line x1="154.1" y1="369" x2="169.5" y2="369"/>
<line x1="154.1" y1="524" x2="169.5" y2="524"/>
<line x1="154.1" y1="680" x2="169.5" y2="680"/>
</g>
<rect x="169.5" y="5.2" width="1313.0" height="816.0999999999999" fill="none" stroke="#000" stroke-width="2.7"/>
<g opacity="0.999">
<text class="tk" transform="translate(245.0,877.8) scale(1,1.045)" text-anchor="middle">11:40</text>
<text class="tk" transform="translate(444.0,877.8) scale(1,1.045)" text-anchor="middle">11:45</text>
<text class="tk" transform="translate(643.0,877.8) scale(1,1.045)" text-anchor="middle">11:50</text>
<text class="tk" transform="translate(842.1,877.8) scale(1,1.045)" text-anchor="middle">11:55</text>
<text class="tk" transform="translate(1041.1,877.8) scale(1,1.045)" text-anchor="middle">12:00</text>
<text class="tk" transform="translate(1240.1,877.8) scale(1,1.045)" text-anchor="middle">12:05</text>
<text class="tk" transform="translate(1439.1,877.8) scale(1,1.045)" text-anchor="middle">12:10</text>
<text class="tk" transform="translate(138.7,71.60) scale(1,1.045)" text-anchor="end">5000</text>
<text class="tk" transform="translate(138.7,227.10) scale(1,1.045)" text-anchor="end">4000</text>
<text class="tk" transform="translate(138.7,382.60) scale(1,1.045)" text-anchor="end">3000</text>
<text class="tk" transform="translate(138.7,538.10) scale(1,1.045)" text-anchor="end">2000</text>
<text class="tk" transform="translate(138.7,693.60) scale(1,1.045)" text-anchor="end">1000</text>
<text class="al" transform="translate(825.8,928.7) scale(1,1.045)" text-anchor="middle">Times (UT+8)</text>
<text class="al" transform="translate(32.2,413.6) rotate(-90) scale(1,1.045)" text-anchor="middle">Data / mV</text>
<g fill="none" stroke-width="4.17" stroke-linecap="butt">
<line x1="1519.2" y1="43.0" x2="1580.8" y2="43.0" stroke="#1f77b4"/>
<line x1="1519.2" y1="86.0" x2="1580.8" y2="86.0" stroke="#aec7e8"/>
<line x1="1519.2" y1="128.0" x2="1580.8" y2="128.0" stroke="#ff7f0e"/>
<line x1="1519.2" y1="171.0" x2="1580.8" y2="171.0" stroke="#ffbb78"/>
<line x1="1519.2" y1="214.0" x2="1580.8" y2="214.0" stroke="#2ca02c"/>
<line x1="1519.2" y1="256.0" x2="1580.8" y2="256.0" stroke="#98df8a"/>
<line x1="1519.2" y1="299.0" x2="1580.8" y2="299.0" stroke="#d62728"/>
<line x1="1519.2" y1="341.0" x2="1580.8" y2="341.0" stroke="#ff9896"/>
<line x1="1519.2" y1="384.0" x2="1580.8" y2="384.0" stroke="#9467bd"/>
<line x1="1519.2" y1="427.0" x2="1580.8" y2="427.0" stroke="#c5b0d5"/>
<line x1="1519.2" y1="469.0" x2="1580.8" y2="469.0" stroke="#8c564b"/>
<line x1="1519.2" y1="512.0" x2="1580.8" y2="512.0" stroke="#c49c94"/>
<line x1="1519.2" y1="554.0" x2="1580.8" y2="554.0" stroke="#e377c2"/>
<line x1="1519.2" y1="597.0" x2="1580.8" y2="597.0" stroke="#f7b6d2"/>
<line x1="1519.2" y1="639.0" x2="1580.8" y2="639.0" stroke="#7f7f7f"/>
<line x1="1519.2" y1="682.0" x2="1580.8" y2="682.0" stroke="#c7c7c7"/>
<line x1="1519.2" y1="725.0" x2="1580.8" y2="725.0" stroke="#bcbd22"/>
<line x1="1519.2" y1="767.0" x2="1580.8" y2="767.0" stroke="#dbdb8d"/>
<line x1="1519.2" y1="810.0" x2="1580.8" y2="810.0" stroke="#17becf"/>
<line x1="1519.2" y1="852.0" x2="1580.8" y2="852.0" stroke="#9edae5"/>
</g>
<text class="lg" transform="translate(1602.6,54.0) scale(1,1.09)">68.5-69.5 GHz_R</text>
<text class="lg" transform="translate(1602.6,96.6) scale(1,1.09)">66.5-67.5 GHz_R</text>
<text class="lg" transform="translate(1602.6,139.2) scale(1,1.09)">64.5-65.5 GHz_R</text>
<text class="lg" transform="translate(1602.6,181.7) scale(1,1.09)">62.5-63.5 GHz_R</text>
<text class="lg" transform="translate(1602.6,224.3) scale(1,1.09)">60.5-61.5 GHz_R</text>
<text class="lg" transform="translate(1602.6,266.9) scale(1,1.09)">58.5-59.5 GHz_R</text>
<text class="lg" transform="translate(1602.6,309.5) scale(1,1.09)">56.5-57.5 GHz_R</text>
<text class="lg" transform="translate(1602.6,352.1) scale(1,1.09)">54.5-55.5 GHz_R</text>
<text class="lg" transform="translate(1602.6,394.6) scale(1,1.09)">52.5-53.5 GHz_R</text>
<text class="lg" transform="translate(1602.6,437.2) scale(1,1.09)">50.5-51.5 GHz_R</text>
<text class="lg" transform="translate(1602.6,479.8) scale(1,1.09)">68.5-69.5 GHz_L</text>
<text class="lg" transform="translate(1602.6,522.4) scale(1,1.09)">66.5-67.5 GHz_L</text>
<text class="lg" transform="translate(1602.6,565.0) scale(1,1.09)">64.5-65.5 GHz_L</text>
<text class="lg" transform="translate(1602.6,607.5) scale(1,1.09)">62.5-63.5 GHz_L</text>
<text class="lg" transform="translate(1602.6,650.1) scale(1,1.09)">60.5-61.5 GHz_L</text>
<text class="lg" transform="translate(1602.6,692.7) scale(1,1.09)">58.5-59.5 GHz_L</text>
<text class="lg" transform="translate(1602.6,735.3) scale(1,1.09)">56.5-57.5 GHz_L</text>
<text class="lg" transform="translate(1602.6,777.9) scale(1,1.09)">54.5-55.5 GHz_L</text>
<text class="lg" transform="translate(1602.6,820.4) scale(1,1.09)">52.5-53.5 GHz_L</text>
<text class="lg" transform="translate(1602.6,863.0) scale(1,1.09)">50.5-51.5 GHz_L</text>
</g>
</svg></body></html>
